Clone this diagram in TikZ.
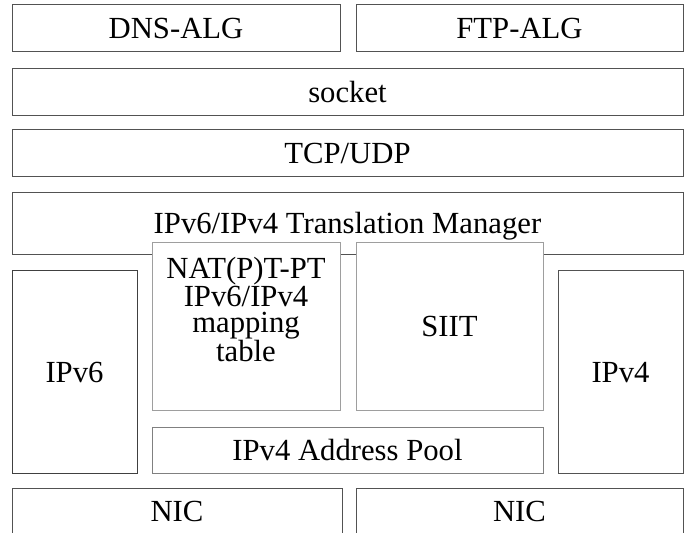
\documentclass[tikz,border=0pt]{standalone}
\usepackage{fontspec}
\setmainfont{Liberation Serif}
\begin{document}
\begin{tikzpicture}[x=1bp,y=-1bp,
  box/.style={draw=#1,line width=0.9bp,fill=white,inner sep=0pt,
    font=\fontsize{30.8}{26.7}\selectfont,text height=21.6bp,text depth=0.4bp},
  box/.default={black!68},
  lbl/.style={inner sep=0pt,align=center,font=\fontsize{30.8}{26.7}\selectfont}]
\useasboundingbox (0,0) rectangle (692,533);
\clip (0,0) rectangle (692,533);

% application layer gateways
\node[box,minimum width=328bp,minimum height=47bp] (dns) at (176,27.5) {DNS-ALG};
\node[box,minimum width=327bp,minimum height=47bp] (ftp) at (519.5,27.5) {FTP-ALG};
% transport
\node[box,minimum width=671bp,minimum height=47bp] (sock) at (347.5,91.5) {socket};
\node[box,minimum width=671bp,minimum height=47bp] (tcp) at (347.5,152.5) {TCP/UDP};
\node[box,minimum width=671bp,minimum height=62bp] (mgr) at (347.5,223) {IPv6/IPv4 Translation Manager};

% translators, drawn over the manager box
\node[box=black!38,minimum width=188bp,minimum height=168bp] (nat) at (246,326) {};
\node[lbl] (nattext) at (246,309.5) {NAT(P)T-PT\\IPv6/IPv4\\mapping\\table};
\node[box=black!38,minimum width=187bp,minimum height=168bp] (siit) at (449.5,326) {SIIT};
\node[box=black!50,minimum width=391bp,minimum height=46bp] (pool) at (347.5,450) {IPv4 Address Pool};

% protocol stacks
\node[box=black!75,minimum width=125bp,minimum height=203bp] (ipv6) at (74.5,371.5) {IPv6};
\node[box=black!68,minimum width=125bp,minimum height=203bp] (ipv4) at (620.5,371.5) {IPv4};

% interfaces
\node[box,minimum width=330bp,minimum height=70bp] (nic1) at (177,523) {};
\node[box,draw=none,fill=none] (nic1text) at (177,511) {NIC};
\node[box,minimum width=327bp,minimum height=70bp] (nic2) at (519.5,523) {};
\node[box,draw=none,fill=none] (nic2text) at (519.5,511) {NIC};
\end{tikzpicture}
\end{document}
